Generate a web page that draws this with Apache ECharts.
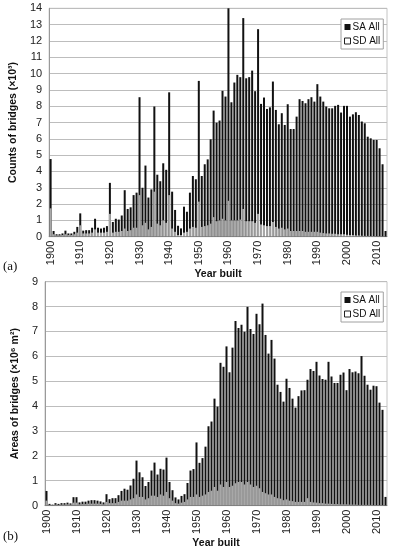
<!DOCTYPE html>
<html><head><meta charset="utf-8">
<script src="https://cdn.jsdelivr.net/npm/echarts@6/dist/echarts.min.js"></script>
<style>html,body{margin:0;padding:0;background:#fff}#c{width:393px;height:550px}</style>
</head><body><div id="c"></div>
<script>
var years = [];
for (var y = 1900; y <= 2013; y++) years.push(String(y));

var countSA = [4.76,0.35,0.15,0.15,0.2,0.37,0.2,0.2,0.3,0.6,
1.43,0.37,0.4,0.4,0.55,1.1,0.55,0.5,0.55,0.65,
3.3,0.9,1.1,1.05,1.3,2.85,1.7,1.8,2.55,2.7,
8.55,3.0,4.36,2.4,2.9,7.98,3.8,3.4,4.5,4.1,
8.85,2.76,1.64,0.67,0.51,1.84,1.53,2.7,3.72,3.52,
9.55,3.72,4.44,4.74,5.97,7.73,6.99,7.12,8.94,8.59,
14.0,8.24,9.45,9.92,9.78,13.4,9.71,9.78,10.18,8.92,
12.72,8.14,8.53,7.83,7.93,9.51,7.77,6.89,7.57,6.85,
8.12,6.6,6.6,7.36,8.43,8.32,8.18,8.43,8.55,8.28,
9.35,8.59,8.28,7.98,7.87,7.87,8.02,8.08,7.61,8.02,
8.02,7.36,7.5,7.63,7.46,7.06,6.95,6.13,6.03,5.93,
5.93,5.42,4.44,0.35];
var countSD = [1.74,0.15,0.08,0.08,0.1,0.15,0.1,0.1,0.15,0.25,
0.7,0.2,0.2,0.2,0.25,0.45,0.25,0.25,0.25,0.3,
1.4,0.25,0.3,0.3,0.35,0.5,0.35,0.4,0.55,0.55,
2.55,0.7,0.85,0.45,0.6,2.76,0.8,0.7,1.0,0.85,
2.55,0.5,0.3,0.1,0.1,0.25,0.3,0.5,0.6,0.55,
2.15,0.6,0.65,0.7,0.8,1.2,0.95,1.0,1.1,1.0,
2.2,1.0,1.0,1.0,1.05,1.7,0.95,0.95,0.95,0.85,
1.4,0.75,0.7,0.65,0.65,0.9,0.6,0.5,0.55,0.45,
0.5,0.35,0.35,0.35,0.35,0.35,0.3,0.3,0.3,0.3,
0.3,0.25,0.22,0.2,0.2,0.18,0.18,0.15,0.15,0.15,
0.12,0.1,0.1,0.08,0.08,0.06,0.05,0.05,0.04,0.04,
0.03,0.03,0.02,0.01];
var areaSA = [0.59,0.07,0.04,0.1,0.07,0.1,0.1,0.12,0.09,0.34,
0.34,0.13,0.16,0.16,0.2,0.22,0.22,0.2,0.17,0.13,
0.46,0.26,0.3,0.3,0.42,0.59,0.68,0.64,0.81,1.08,
1.81,1.34,1.14,0.79,0.95,1.41,1.73,1.25,1.48,1.45,
1.93,0.95,0.62,0.33,0.25,0.39,0.46,0.91,1.41,1.47,
2.54,1.72,1.91,2.37,3.19,3.38,4.3,3.98,5.74,5.58,
6.4,5.36,6.35,7.42,7.14,7.27,6.99,7.99,7.1,6.9,
7.71,7.29,8.12,6.86,6.11,6.66,5.91,4.86,4.57,4.18,
5.1,4.73,4.3,3.94,4.4,4.63,4.64,5.06,5.49,5.41,
5.78,5.23,5.09,5.06,5.78,5.19,4.93,4.93,5.26,5.35,
4.64,5.49,5.36,5.39,5.32,6.01,5.22,4.86,4.66,4.82,
4.8,4.14,3.85,0.35];
var areaSD = [0.2,0.03,0.02,0.04,0.03,0.04,0.04,0.05,0.04,0.12,
0.12,0.05,0.06,0.06,0.08,0.08,0.08,0.08,0.07,0.05,
0.15,0.1,0.1,0.1,0.15,0.2,0.2,0.2,0.25,0.3,
0.45,0.35,0.35,0.25,0.3,0.4,0.4,0.35,0.45,0.4,
0.55,0.3,0.2,0.1,0.08,0.12,0.15,0.25,0.35,0.35,
0.45,0.35,0.4,0.45,0.55,0.6,0.75,0.6,0.85,0.75,
0.95,0.75,0.8,0.9,0.95,0.95,0.85,0.95,0.85,0.75,
0.8,0.7,0.55,0.5,0.45,0.45,0.35,0.3,0.28,0.22,
0.25,0.2,0.18,0.15,0.15,0.15,0.15,0.3,0.15,0.13,
0.12,0.1,0.1,0.08,0.08,0.07,0.06,0.06,0.05,0.05,
0.05,0.04,0.04,0.04,0.03,0.03,0.03,0.03,0.03,0.02,
0.02,0.02,0.02,0.01];

var FONT = 'Liberation Sans';
var chart = echarts.init(document.getElementById('c'), null, {renderer:'canvas'});

function xAx(gi){
  return {type:'category', gridIndex:gi, data:years, boundaryGap:true,
    axisLine:{show:true, lineStyle:{color:'#9a9a9a', width:1}},
    axisTick:{show:false},
    axisLabel:{interval:9, rotate:90, fontSize:11, fontFamily:FONT, color:'#222', margin:4},
    name:'Year built', nameLocation:'middle', nameGap:32,
    nameTextStyle:{fontWeight:'bold', fontSize:10.5, fontFamily:FONT, color:'#111'}};
}
function yAx(gi, max, name){
  return {type:'value', gridIndex:gi, min:0, max:max, interval:1,
    axisLine:{show:true, lineStyle:{color:'#9a9a9a', width:1}},
    axisTick:{show:false},
    splitLine:{show:true, lineStyle:{color:'#bdbdbd', width:1}},
    axisLabel:{fontSize:11, fontFamily:FONT, color:'#222', margin:7},
    name:name, nameLocation:'middle', nameGap:24, nameRotate:90,
    nameTextStyle:{fontWeight:'bold', fontSize:10.5, fontFamily:FONT, color:'#111'}};
}
function legend(top){
  return {show:true, orient:'vertical', left:341, top:top, selectedMode:false,
    backgroundColor:'#fff', borderColor:'#a0a0a0', borderWidth:1, padding:[3,3,3,3],
    itemWidth:6, itemHeight:6, itemGap:4,
    textStyle:{fontSize:10, fontFamily:FONT, color:'#111', padding:[0,0,0,-3]},
    data:[{name:'SA All', icon:'rect', itemStyle:{color:'#111', borderWidth:0}},
          {name:'SD All', icon:'rect', itemStyle:{color:'#fff', borderColor:'#222', borderWidth:1}}]};
}
function bars(gi, name, data, color){
  return {type:'bar', name:name, xAxisIndex:gi, yAxisIndex:gi, data:data,
    barWidth:2, barGap:'-100%', itemStyle:{color:color}, silent:true, animation:false};
}

chart.setOption({
  animation:false,
  grid:[
    {left:45, right:6, top:8.3, height:228.4, show:true, borderColor:'#c4c4c4', borderWidth:1, backgroundColor:'transparent'},
    {left:45, right:6, top:281.7, height:228.3, show:true, borderColor:'#c4c4c4', borderWidth:1, backgroundColor:'transparent'}
  ],
  xAxis:[xAx(0), xAx(1)],
  yAxis:[yAx(0, 14, 'Counts of bridges (×10³)'), yAx(1, 9, 'Areas of bridges (×10⁶ m²)')],
  legend:[legend(19), legend(292)],
  series:[
    bars(0,'SA All',countSA,'#111111'),
    bars(0,'SD All',countSD,'#a8a8a8'),
    bars(1,'SA All',areaSA,'#111111'),
    bars(1,'SD All',areaSD,'#a8a8a8')
  ],
  graphic:[
    {type:'text', left:3, top:260, style:{text:'(a)', font:'13px "Liberation Serif"', fill:'#111'}},
    {type:'text', left:3, top:530, style:{text:'(b)', font:'13px "Liberation Serif"', fill:'#111'}}
  ]
});
</script>
</body></html>
